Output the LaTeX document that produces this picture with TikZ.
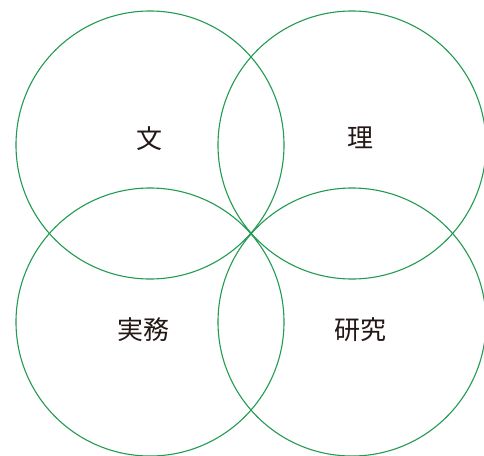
\documentclass[tikz,border=0pt]{standalone}
\usepackage{fontspec}
\newfontfamily\cjk{Noto Sans CJK JP}
\definecolor{ringgreen}{RGB}{34,154,82}
\definecolor{inkdark}{RGB}{35,24,21}
\begin{document}
\begin{tikzpicture}[x=1pt,y=-1pt,
  ring/.style={draw=ringgreen,line width=1.1pt},
  lbl/.style={font=\cjk\fontsize{26}{26}\selectfont,text=inkdark,inner sep=0pt}]
\useasboundingbox (0,0) rectangle (484,455);
\begin{scope}
\clip (0,0) rectangle (484,455);
\draw[ring] (150,145) circle[radius=134];
\draw[ring] (352,145) circle[radius=134];
\draw[ring] (150,322) circle[radius=134];
\draw[ring] (352,322) circle[radius=134];
\end{scope}
\node[lbl] (bun) at (149,139) {文};
\node[lbl] (ri) at (360,138) {理};
\node[lbl] (jitsumu) at (143,330) {実務};
\node[lbl] (kenkyu) at (360,330) {研究};
\end{tikzpicture}
\end{document}
